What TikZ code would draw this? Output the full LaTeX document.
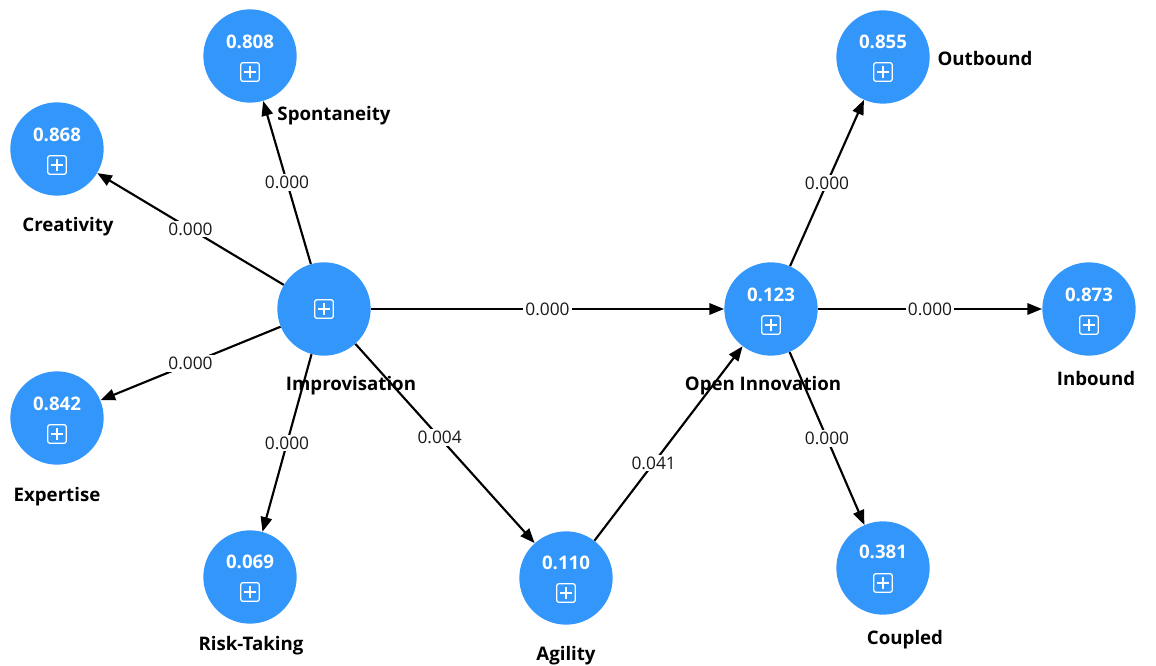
\documentclass[tikz,border=0pt]{standalone}
\usepackage{fontspec}
\setmainfont{Open Sans}
\usetikzlibrary{arrows.meta}
\definecolor{nodeblue}{RGB}{50,150,250}
\tikzset{
  plusbox/.pic={
    \draw[white, line width=0.95pt, rounded corners=1.8pt] (-7pt,-7pt) rectangle (7pt,7pt);
    \draw[white, line width=0.95pt] (-4.3pt,0pt) -- (4.3pt,0pt) (0pt,-4.3pt) -- (0pt,4.3pt);
  }
}
\begin{document}
\begin{tikzpicture}[x=0.75pt,y=-0.75pt,
  lv/.style={circle, fill=nodeblue, minimum size=70pt, inner sep=0pt},
  lab/.style={font=\bfseries\fontsize{14}{16}\selectfont, text=black, inner sep=0pt},
  val/.style={font=\bfseries\fontsize{14}{16}\selectfont, text=white, inner sep=0pt},
  pth/.style={line width=1.6pt, -{Triangle[length=11pt,width=8.5pt]}},
  el/.style={fill=white, inner sep=1.5pt, font=\fontsize{13}{15}\selectfont, text=black!90}
]
\useasboundingbox (0,0) rectangle (1156,666);
% latent variables
\node[lv] (imp) at (324,309) {};
\node[lv] (spo) at (250,56) {};
\node[lv] (cre) at (57,149) {};
\node[lv] (exp) at (57,418) {};
\node[lv] (ris) at (250,577) {};
\node[lv] (agi) at (566,578) {};
\node[lv] (oin) at (771,309) {};
\node[lv] (out) at (883,57) {};
\node[lv] (inb) at (1089,309) {};
\node[lv] (cou) at (883,568) {};
% values
\node[val] (vspo) at (250,42) {0.808};
\node[val] (vcre) at (57,135) {0.868};
\node[val] (vexp) at (57,404) {0.842};
\node[val] (vris) at (250,562) {0.069};
\node[val] (vagi) at (566,563) {0.110};
\node[val] (voin) at (771,295) {0.123};
\node[val] (vout) at (883,42) {0.855};
\node[val] (vinb) at (1089,295) {0.873};
\node[val] (vcou) at (883,552) {0.381};
% icons
\pic at (324,309) {plusbox};
\pic at (250,72) {plusbox};
\pic at (57,165) {plusbox};
\pic at (57,434) {plusbox};
\pic at (250,592) {plusbox};
\pic at (566,593) {plusbox};
\pic at (771,325) {plusbox};
\pic at (883,72) {plusbox};
\pic at (1089,325) {plusbox};
\pic at (883,583) {plusbox};
% paths
\draw[pth] (imp) -- node[el] {0.000} (spo);
\draw[pth] (imp) -- node[el] {0.000} (cre);
\draw[pth] (imp) -- node[el] {0.000} (exp);
\draw[pth] (imp) -- node[el] {0.000} (ris);
\draw[pth] (imp) -- node[el, pos=0.47] {0.004} (agi);
\draw[pth] (imp) -- node[el] {0.000} (oin);
\draw[pth] (agi) -- node[el, pos=0.4] {0.041} (oin);
\draw[pth] (oin) -- node[el] {0.000} (out);
\draw[pth] (oin) -- node[el] {0.000} (inb);
\draw[pth] (oin) -- node[el] {0.000} (cou);
% labels
\node[lab] (lspo) at (334,116) {Spontaneity};
\node[lab] (lcre) at (68,227) {Creativity};
\node[lab] (lexp) at (57,497) {Expertise};
\node[lab] (lris) at (251,646) {Risk-Taking};
\node[lab] (lagi) at (566,656) {Agility};
\node[lab] (limp) at (351,386) {Improvisation};
\node[lab] (loin) at (763,386) {Open Innovation};
\node[lab] (lout) at (985,59) {Outbound};
\node[lab] (linb) at (1096,378) {Inbound};
\node[lab] (lcou) at (905,640) {Coupled};
\end{tikzpicture}
\end{document}
